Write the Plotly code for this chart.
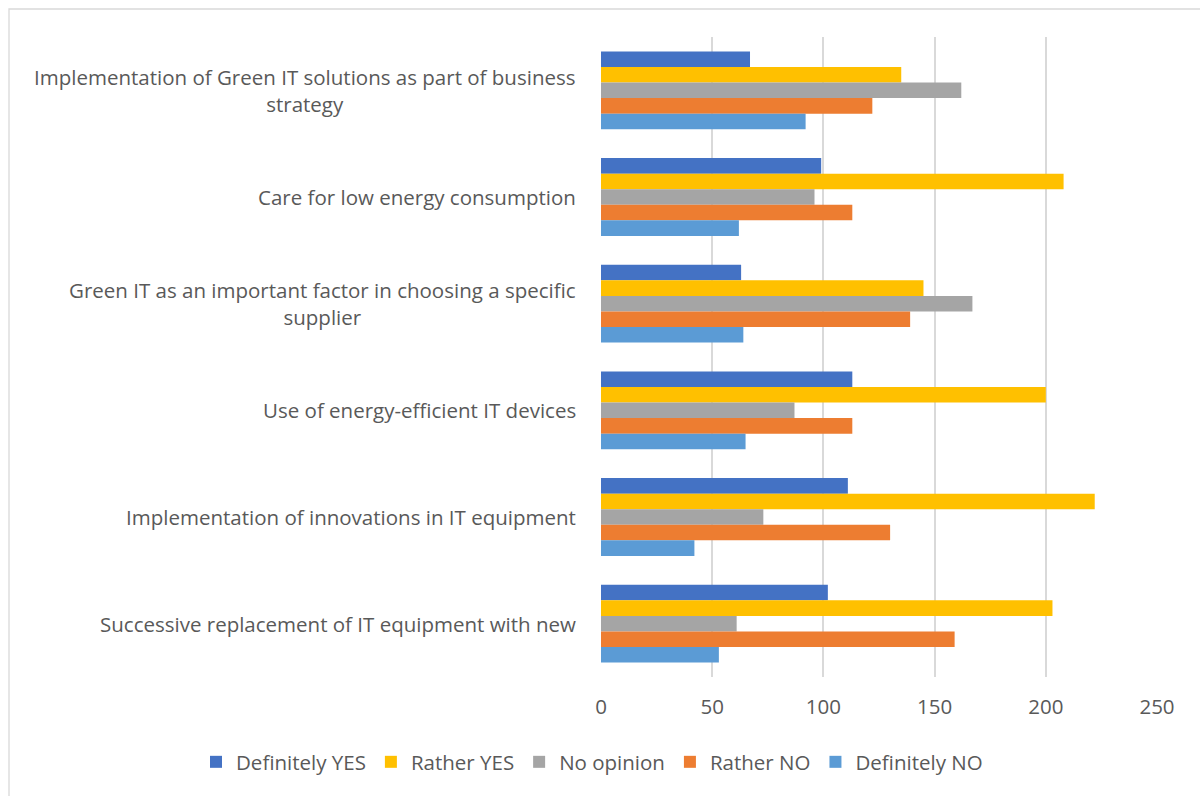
import plotly.graph_objects as go

categories = [
    "Implementation of Green IT solutions as part of business<br>strategy",
    "Care for low energy consumption",
    "Green IT as an important factor in choosing a specific<br>supplier",
    "Use of energy-efficient IT devices",
    "Implementation of innovations in IT equipment",
    "Successive replacement of IT equipment with new",
]
series_names = ["Definitely YES", "Rather YES", "No opinion", "Rather NO", "Definitely NO"]
definitely_yes = [67, 99, 63, 113, 111, 102]
rather_yes = [135, 208, 145, 200, 222, 203]
no_opinion = [162, 96, 167, 87, 73, 61]
rather_no = [122, 113, 139, 113, 130, 159]
definitely_no = [92, 62, 64, 65, 42, 53]
x_ticks = [0, 50, 100, 150, 200, 250]

colors = ["#4472C4", "#FFC000", "#A5A5A5", "#ED7D31", "#5B9BD5"]
values = [definitely_yes, rather_yes, no_opinion, rather_no, definitely_no]

FONT = "'Open Sans', sans-serif"
TXT = "#595959"
FS = 20.5

fig = go.Figure()
for name, vals, col in zip(series_names, values, colors):
    fig.add_trace(go.Bar(
        y=categories, x=vals, name=name, orientation="h",
        marker=dict(color=col, line=dict(width=0)),
    ))

W, H = 1200, 796
L, R, T, B = 601, 43, 37, 119
pw = W - L - R
ph = H - T - B

for c in categories:
    fig.add_annotation(
        x=(578 - L) / pw, xref="paper", y=c, yref="y",
        text=c, showarrow=False, xanchor="right", yanchor="middle",
        align="center", font=dict(family=FONT, size=FS, color=TXT),
    )

# chart border
fig.add_shape(type="rect", xref="paper", yref="paper",
              x0=(9 - L) / pw, x1=(1210 - L) / pw,
              y0=(T + ph - 810) / ph, y1=(T + ph - 9) / ph,
              line=dict(color="#D9D9D9", width=1.3), fillcolor="rgba(0,0,0,0)",
              layer="below")

fig.update_layout(
    width=W, height=H,
    margin=dict(l=L, r=R, t=T, b=B, autoexpand=False),
    paper_bgcolor="white", plot_bgcolor="white",
    barmode="group", bargap=0.27, bargroupgap=0,
    font=dict(family=FONT, size=FS, color=TXT),
    xaxis=dict(range=[0, 250], tickvals=x_ticks, ticktext=[str(t) for t in x_ticks],
               showgrid=True, gridcolor="#D9D9D9", gridwidth=1.5,
               zeroline=False, showline=False, ticks="", ticklabelstandoff=15,
               tickfont=dict(family=FONT, size=FS, color=TXT)),
    yaxis=dict(autorange="reversed", showticklabels=False, showgrid=False,
               zeroline=False, showline=False, ticks=""),
    legend=dict(orientation="h", x=(196 - L) / pw, xanchor="left",
                y=(T + ph - 742) / ph, yanchor="top",
                font=dict(family=FONT, size=FS, color=TXT),
                tracegroupgap=0),
    showlegend=True,
)

fig.write_html("out.html")
